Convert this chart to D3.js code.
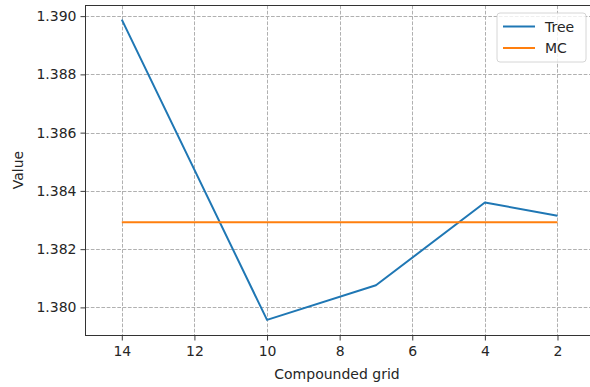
<!DOCTYPE html>
<html>
<head>
<meta charset="utf-8">
<script src="https://cdn.jsdelivr.net/npm/d3@7"></script>
<style>
  body { margin: 0; background: #fff; }
  svg text { font-family: "DejaVu Sans", sans-serif; fill: #262626; }
</style>
</head>
<body>
<svg class="chart"></svg>
<script>
var treeGrid = [14, 10, 7, 4, 2];
var treeValues = [1.38988, 1.37957, 1.38076, 1.38360, 1.38315];
var mcGrid = [14, 2];
var mcValues = [1.38292, 1.38292];
var xTicks = [14, 12, 10, 8, 6, 4, 2];
var yTicks = [1.380, 1.382, 1.384, 1.386, 1.388, 1.390];

function show() {
    'use strict';

    var width = 590, height = 387;
    var left = 85.5, top = 5.5, bottom = 335.5;

    var svg = d3.select(".chart")
        .attr("width", width)
        .attr("height", height);

    var x = d3.scaleLinear().domain([15, 1]).range([left, 593.8]);
    var y = d3.scaleLinear().domain([1.379035, 1.390365]).range([bottom, top]);

    // grid
    var grid = svg.append("g")
        .attr("stroke", "#b0b0b0")
        .attr("stroke-width", 1)
        .attr("stroke-dasharray", "3.7,1.6");
    grid.selectAll(".gx").data(xTicks).enter()
        .append("line")
        .attr("x1", function(d) { return Math.round(x(d)) + 0.5 })
        .attr("x2", function(d) { return Math.round(x(d)) + 0.5 })
        .attr("y1", top).attr("y2", bottom);
    grid.selectAll(".gy").data(yTicks).enter()
        .append("line")
        .attr("y1", function(d) { return Math.round(y(d)) + 0.5 })
        .attr("y2", function(d) { return Math.round(y(d)) + 0.5 })
        .attr("x1", left).attr("x2", width);

    var line = d3.line()
        .x(function(d) { return x(d[0]) })
        .y(function(d) { return y(d[1]) });

    svg.append("path")
        .datum(d3.zip(treeGrid, treeValues))
        .attr("d", line)
        .attr("fill", "none")
        .attr("stroke", "#1f77b4")
        .attr("stroke-width", 2)
        .attr("stroke-linejoin", "round");

    svg.append("path")
        .datum(d3.zip(mcGrid, mcValues))
        .attr("d", line)
        .attr("fill", "none")
        .attr("stroke", "#ff7f0e")
        .attr("stroke-width", 2);

    // axes
    var xAxis = d3.axisBottom(x).tickValues(xTicks).tickSize(5).tickPadding(4)
        .tickFormat(d3.format("d"));
    var yAxis = d3.axisLeft(y).tickValues(yTicks).tickSize(5).tickPadding(4)
        .tickFormat(d3.format(".3f"));

    var gx = svg.append("g").attr("transform", "translate(0," + bottom + ")").call(xAxis);
    var gy = svg.append("g").attr("transform", "translate(" + left + ",0)").call(yAxis);
    [gx, gy].forEach(function(g) {
        g.select(".domain").remove();
        g.selectAll("line").attr("stroke", "#262626").attr("stroke-width", 0.9);
        g.selectAll("text").attr("font-size", 14).attr("fill", "#262626")
            .style("font-family", "DejaVu Sans");
    });
    gx.selectAll("text").attr("dy", "0.85em");

    // spines
    svg.append("rect")
        .attr("x", left).attr("y", top)
        .attr("width", 600).attr("height", bottom - top)
        .attr("fill", "none")
        .attr("stroke", "#333")
        .attr("stroke-width", 1);

    svg.append("text")
        .attr("x", 337).attr("y", 379)
        .attr("text-anchor", "middle")
        .attr("font-size", 14)
        .text("Compounded grid");

    svg.append("text")
        .attr("transform", "translate(23,170) rotate(-90)")
        .attr("text-anchor", "middle")
        .attr("font-size", 14)
        .text("Value");

    // legend
    var legend = svg.append("g").attr("transform", "translate(497,13)");
    legend.append("rect")
        .attr("width", 89).attr("height", 49).attr("rx", 3)
        .attr("fill", "#fff").attr("fill-opacity", 0.8)
        .attr("stroke", "#ccc").attr("stroke-width", 0.8);
    var entries = [["Tree", "#1f77b4"], ["MC", "#ff7f0e"]];
    legend.selectAll(".entry").data(entries).enter()
        .append("line")
        .attr("x1", 6).attr("x2", 38)
        .attr("y1", function(d, i) { return 13.5 + i * 21.5 })
        .attr("y2", function(d, i) { return 13.5 + i * 21.5 })
        .attr("stroke", function(d) { return d[1] })
        .attr("stroke-width", 2);
    legend.selectAll(".lt").data(entries).enter()
        .append("text")
        .attr("x", 48)
        .attr("y", function(d, i) { return 18.5 + i * 21.5 })
        .attr("font-size", 14)
        .text(function(d) { return d[0] });
}
show();
</script>
</body>
</html>
